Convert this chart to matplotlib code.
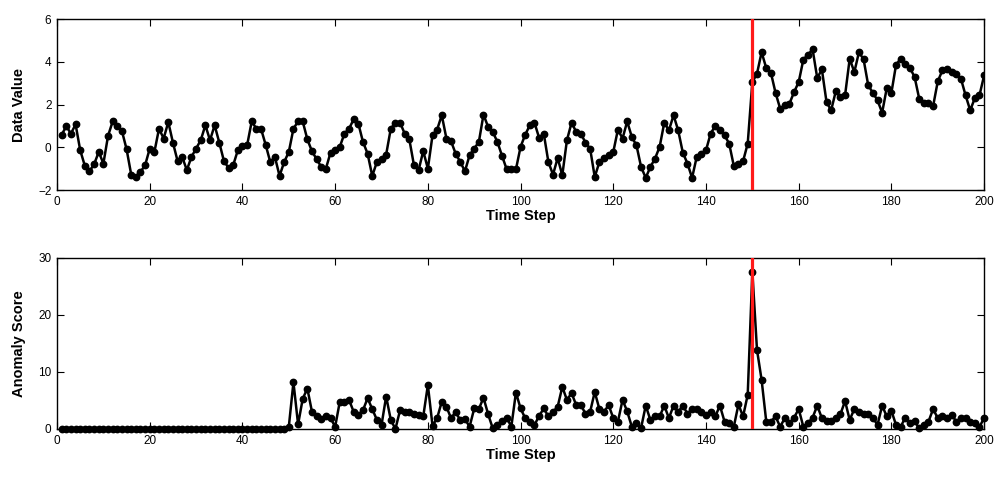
import numpy as np
import matplotlib
matplotlib.use("Agg")
import matplotlib.pyplot as plt

# Time steps 1..200
steps = np.arange(1, 201)

data_value = [
    0.59, 0.98, 0.64, 1.07, -0.14, -0.87, -1.12, -0.79, -0.22, -0.76,
    0.53, 1.21, 0.99, 0.76, -0.09, -1.28, -1.39, -1.15, -0.84, -0.06,
    -0.22, 0.87, 0.41, 1.18, 0.22, -0.64, -0.45, -1.07, -0.45, -0.06,
    0.33, 1.03, 0.33, 1.03, 0.22, -0.64, -0.97, -0.84, -0.14, 0.05,
    0.09, 1.21, 0.87, 0.87, 0.12, -0.69, -0.45, -1.34, -0.69, -0.22,
    0.87, 1.21, 1.21, 0.37, -0.19, -0.56, -0.92, -1.0, -0.25, -0.14,
    0.02, 0.64, 0.87, 1.31, 1.11, 0.25, -0.3, -1.34, -0.69, -0.53,
    -0.34, 0.87, 1.15, 1.15, 0.64, 0.37, -0.84, -1.07, -0.18, -1.0,
    0.56, 0.83, 1.5, 0.41, 0.28, -0.3, -0.69, -1.12, -0.37, -0.06,
    0.25, 1.53, 0.95, 0.72, 0.25, -0.4, -1.03, -1.0, -1.03, 0.02,
    0.59, 1.03, 1.15, 0.44, 0.64, -0.69, -1.28, -0.5, -1.31, 0.33,
    1.15, 0.72, 0.64, 0.22, -0.06, -1.39, -0.69, -0.5, -0.34, -0.22,
    0.83, 0.41, 1.21, 0.48, 0.09, -0.92, -1.43, -0.92, -0.53, 0.02,
    1.15, 0.79, 1.5, 0.79, -0.25, -0.76, -1.43, -0.45, -0.3, -0.14,
    0.64, 1.0, 0.79, 0.56, 0.17, -0.87, -0.76, -0.65, 0.17, 3.05,
    3.44, 4.45, 3.7, 3.49, 2.55, 1.81, 1.96, 2.04, 2.58, 3.05,
    4.1, 4.33, 4.58, 3.24, 3.64, 2.12, 1.73, 2.62, 2.35, 2.43,
    4.14, 3.52, 4.45, 4.11, 2.9, 2.55, 2.2, 1.62, 2.77, 2.55,
    3.86, 4.14, 3.91, 3.71, 3.29, 2.27, 2.09, 2.09, 1.93, 3.08,
    3.6, 3.68, 3.52, 3.44, 3.21, 2.43, 1.73, 2.3, 2.43, 3.36,
]

anomaly_score = [0.0] * 49 + [
    0.4, 8.2, 0.8, 5.3, 7.1, 3.0, 2.2, 1.75, 2.2, 1.9, 0.4,
    4.8, 4.8, 5.1, 3.0, 2.5, 3.3, 5.4, 3.5, 1.6, 0.7,
    5.7, 1.6, 0.0, 3.3, 2.9, 2.9, 2.7, 2.5, 2.2, 7.7,
    0.6, 1.9, 4.8, 3.9, 1.9, 3.0, 1.5, 1.75, 0.4, 3.6,
    3.5, 5.5, 2.6, 0.1, 0.7, 1.4, 2.0, 0.4, 6.4, 3.6,
    1.9, 1.3, 0.7, 2.3, 3.6, 2.2, 3.0, 3.9, 7.4, 5.1,
    6.3, 4.2, 4.2, 2.7, 3.0, 6.5, 3.5, 3.0, 4.2, 1.9,
    1.3, 5.1, 3.1, 0.4, 1.0, 0.2, 4.1, 1.6, 2.2, 2.2,
    4.1, 1.9, 4.1, 3.0, 4.1, 2.7, 3.5, 3.5, 3.0, 2.5,
    3.0, 2.2, 4.1, 1.3, 1.0, 0.4, 4.3, 2.2, 6.0, 27.6,
    13.9, 8.6, 1.3, 1.3, 2.2, 0.4, 1.9, 1.0, 2.0, 3.5,
    0.4, 1.0, 2.0, 4.1, 1.9, 1.4, 1.4, 1.9, 2.6, 4.9,
    1.6, 3.5, 3.0, 2.7, 2.7, 2.0, 0.7, 4.1, 2.2, 3.2,
    0.7, 0.4, 2.0, 1.0, 1.4, 0.1, 0.7, 1.3, 3.5, 1.9,
    2.2, 1.9, 2.5, 1.3, 1.9, 1.9, 1.3, 1.0, 0.4, 1.9,
]

change_point = 150
x_ticks = [0, 20, 40, 60, 80, 100, 120, 140, 160, 180, 200]
top_yticks = [-2, 0, 2, 4, 6]
bot_yticks = [0, 10, 20, 30]

plt.rcParams['font.family'] = ['Liberation Sans', 'DejaVu Sans']

fig = plt.figure(figsize=(9.99, 4.79), dpi=100)
ax1 = fig.add_axes([0.0571, 0.6033, 0.928, 0.357])
ax2 = fig.add_axes([0.0571, 0.1044, 0.928, 0.357])

def style(ax, yticks, ylabel):
    ax.set_xlim(0, 200)
    ax.set_xticks(x_ticks)
    ax.set_yticks(yticks)
    ax.set_ylim(yticks[0], yticks[-1])
    ax.tick_params(direction='in', length=5, width=0.8, top=True, right=True,
                   labelsize=8.5, colors='black', pad=4)
    ax.set_yticklabels(['\u2212' + str(abs(t)) if t < 0 else str(t) for t in yticks])
    for s in ax.spines.values():
        s.set_linewidth(1.0)
    ax.set_xlabel('Time Step', fontsize=10.5, fontweight='bold', labelpad=1)
    ax.set_ylabel(ylabel, fontsize=10.5, fontweight='bold', labelpad=9)

ax1.plot(steps, data_value, '-o', color='black', lw=1.8, ms=4.6,
         mfc='black', mec='black', zorder=3)
ax1.axvline(change_point, color='#ff1a1a', lw=2.3, zorder=4)
style(ax1, top_yticks, 'Data Value')

ax2.plot(steps, anomaly_score, '-o', color='black', lw=1.8, ms=4.6,
         mfc='black', mec='black', zorder=3, clip_on=False)
ax2.axvline(change_point, color='#ff1a1a', lw=2.3, zorder=4)
style(ax2, bot_yticks, 'Anomaly Score')

fig.savefig('out.png', dpi=100)
